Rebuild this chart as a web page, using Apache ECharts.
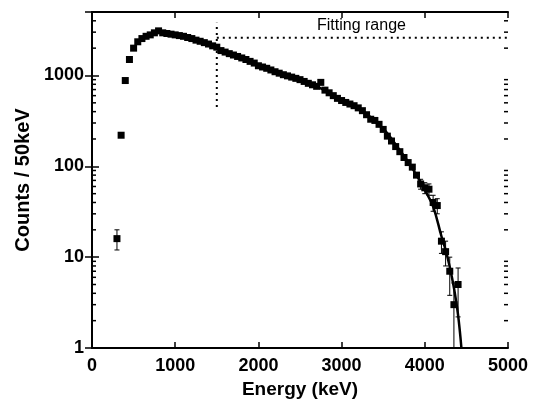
<!DOCTYPE html>
<html>
<head>
<meta charset="utf-8">
<script src="https://cdn.jsdelivr.net/npm/echarts@6/dist/echarts.min.js"></script>
<style>
  html, body { margin: 0; padding: 0; background: #fff; }
  #chart { width: 536px; height: 408px; }
</style>
</head>
<body>
<div id="chart"></div>
<script>
// measured spectrum, 50 keV bins
const energies = [
  300, 350, 400, 450, 500, 550, 600, 650, 700, 750, 800, 850, 900, 950,
  1000, 1050, 1100, 1150, 1200, 1250, 1300, 1350, 1400, 1450, 1500, 1550,
  1600, 1650, 1700, 1750, 1800, 1850, 1900, 1950, 2000, 2050, 2100, 2150,
  2200, 2250, 2300, 2350, 2400, 2450, 2500, 2550, 2600, 2650, 2700, 2750,
  2800, 2850, 2900, 2950, 3000, 3050, 3100, 3150, 3200, 3250, 3300, 3350,
  3400, 3450, 3500, 3550, 3600, 3650, 3700, 3750, 3800, 3850, 3900, 3950,
  4000, 4050, 4100, 4150, 4200, 4250, 4300, 4350, 4400
];
const counts = [
  16, 220, 880, 1500, 2000, 2350, 2550, 2700, 2800, 2950, 3100, 2950, 2900, 2850,
  2800, 2750, 2700, 2620, 2550, 2450, 2380, 2300, 2220, 2120, 2050, 1880,
  1810, 1740, 1680, 1620, 1560, 1500, 1430, 1370, 1280, 1240, 1200, 1150,
  1100, 1060, 1020, 990, 960, 930, 900, 860, 820, 790, 760, 840,
  690, 645, 600, 560, 530, 505, 485, 465, 440, 410, 370, 330,
  320, 290, 255, 215, 190, 165, 145, 125, 110, 98, 80, 64,
  58, 56, 40, 37, 15, 11.5, 7, 3, 5
];

// visible error bars
const errEnergies = [300, 3950, 4000, 4050, 4100, 4150, 4200, 4250, 4300, 4350, 4400];
const errLow =      [12,  56,   50,   48,   32,   30,   11,   8,    3.8,  1,    2.2];
const errHigh =     [20,  72,   66,   64,   48,   44,   19,   15,   10,   5.2,  7.6];

// fitted curve
const fitEnergies = [1500, 1750, 2000, 2250, 2500, 2750, 3000, 3250, 3500, 3700, 3800, 3900, 4000, 4100, 4200, 4250, 4300, 4350, 4400, 4440];
const fitCounts =   [1950, 1620, 1300, 1060, 880,  720,  540,  410,  260,  150,  112,  80,   55,   36,   17,   12,   7.8,  4.6,  2.3,  1];

// fitting range marker
const fitStart = 1500;
const fitEnd = 5000;
const fitRangeLevel = 2600;
const fitMarkLow = 450;
const fitMarkHigh = 3800;

const xTicks = [0, 1000, 2000, 3000, 4000, 5000];
const yTicks = [1, 10, 100, 1000];
const yMinorTicks = [2, 3, 4, 5, 6, 7, 8, 9, 20, 30, 40, 50, 60, 70, 80, 90,
  200, 300, 400, 500, 600, 700, 800, 900, 2000, 3000, 4000];

const fontFamily = '"Liberation Sans", Arial, sans-serif';
const chart = echarts.init(document.getElementById('chart'), null, { renderer: 'canvas' });

const pointData = energies.map((e, i) => [e, counts[i]]);
const errData = errEnergies.map((e, i) => [e, errLow[i], errHigh[i]]);
const fitData = fitEnergies.map((e, i) => [e, fitCounts[i]]);

const axisLineStyle = { color: '#000', width: 2 };
const labelStyle = { color: '#000', fontFamily: fontFamily, fontWeight: 'bold', fontSize: 18 };
const titleStyle = { color: '#000', fontFamily: fontFamily, fontWeight: 'bold', fontSize: 19 };

const option = {
  backgroundColor: '#fff',
  animation: false,
  grid: { left: 92, right: 28, top: 12, bottom: 60, containLabel: false, outerBoundsMode: 'none' },
  xAxis: [
    {
      type: 'value', min: xTicks[0], max: xTicks[xTicks.length - 1], interval: 1000,
      position: 'bottom',
      name: 'Energy (keV)', nameLocation: 'middle', nameGap: 32,
      nameTextStyle: titleStyle,
      axisLine: { lineStyle: axisLineStyle },
      axisTick: { inside: true, length: 6, lineStyle: { color: '#000', width: 1.5 } },
      axisLabel: Object.assign({ margin: 9, formatter: v => String(v) }, labelStyle),
      splitLine: { show: false }
    },
    {
      type: 'value', min: xTicks[0], max: xTicks[xTicks.length - 1], interval: 1000,
      position: 'top',
      axisLine: { lineStyle: axisLineStyle },
      axisTick: { inside: true, length: 6, lineStyle: { color: '#000', width: 1.5 } },
      axisLabel: { show: false },
      splitLine: { show: false }
    }
  ],
  yAxis: [
    {
      type: 'log', logBase: 10, min: 1, max: 5000,
      position: 'left',
      name: 'Counts / 50keV', nameLocation: 'middle', nameGap: 56,
      nameTextStyle: Object.assign({}, titleStyle, { fontSize: 20 }),
      axisLine: { lineStyle: axisLineStyle },
      axisTick: { inside: true, length: 7, lineStyle: { color: '#000', width: 1.5 } },
      axisLabel: Object.assign({
        margin: 8,
        formatter: v => (yTicks.indexOf(Math.round(v)) >= 0 ? String(Math.round(v)) : '')
      }, labelStyle),
      splitLine: { show: false }
    },
    {
      type: 'log', logBase: 10, min: 1, max: 5000,
      position: 'right',
      axisLine: { lineStyle: axisLineStyle },
      axisTick: { inside: true, length: 7, lineStyle: { color: '#000', width: 1.5 } },
      axisLabel: { show: false },
      splitLine: { show: false }
    }
  ],
  graphic: [
    {
      type: 'text', left: 317, top: 18,
      style: { text: 'Fitting range', fill: '#000', font: '16px ' + fontFamily }
    }
  ],
  series: [
    {
      // minor log ticks on left and right frame
      type: 'custom',
      silent: true,
      data: yMinorTicks.map(v => [0, v]),
      renderItem: function (params, api) {
        const y = api.coord([0, api.value(1)])[1];
        const cs = params.coordSys;
        return {
          type: 'group',
          children: [
            { type: 'line', shape: { x1: cs.x, y1: y, x2: cs.x + 4, y2: y }, style: { stroke: '#000', lineWidth: 1.5 } },
            { type: 'line', shape: { x1: cs.x + cs.width - 4, y1: y, x2: cs.x + cs.width, y2: y }, style: { stroke: '#000', lineWidth: 1.5 } }
          ]
        };
      }
    },
    {
      type: 'line',
      data: [[fitStart, fitMarkLow], [fitStart, fitMarkHigh]],
      showSymbol: false, silent: true,
      lineStyle: { color: '#000', width: 2, type: [2, 4] }
    },
    {
      type: 'line',
      data: [[fitStart, fitRangeLevel], [fitEnd, fitRangeLevel]],
      showSymbol: false, silent: true,
      lineStyle: { color: '#000', width: 2, type: [2, 4] }
    },
    {
      type: 'line',
      data: fitData,
      smooth: 0.4,
      showSymbol: false,
      lineStyle: { color: '#000', width: 2.5 },
      z: 3
    },
    {
      type: 'custom',
      data: errData,
      renderItem: function (params, api) {
        const x = api.value(0);
        const lo = api.coord([x, api.value(1)]);
        const hi = api.coord([x, api.value(2)]);
        const w = 2.5;
        const st = { stroke: '#000', lineWidth: 1 };
        return {
          type: 'group',
          children: [
            { type: 'line', shape: { x1: lo[0], y1: lo[1], x2: hi[0], y2: hi[1] }, style: st },
            { type: 'line', shape: { x1: lo[0] - w, y1: lo[1], x2: lo[0] + w, y2: lo[1] }, style: st },
            { type: 'line', shape: { x1: hi[0] - w, y1: hi[1], x2: hi[0] + w, y2: hi[1] }, style: st }
          ]
        };
      },
      z: 4
    },
    {
      type: 'scatter',
      data: pointData,
      symbol: 'rect',
      symbolSize: 7,
      itemStyle: { color: '#000', opacity: 1 },
      z: 5
    }
  ]
};

option && chart.setOption(option);
</script>
</body>
</html>
